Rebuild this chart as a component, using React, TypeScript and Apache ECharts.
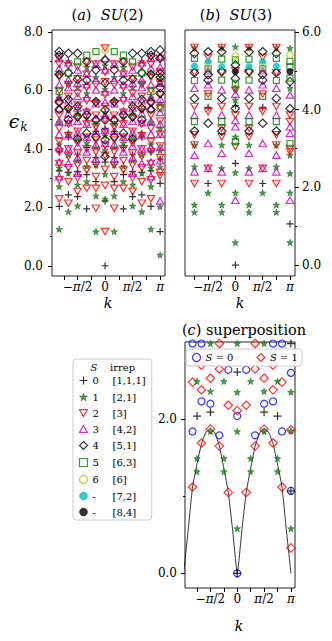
import { useEffect, useRef } from 'react';
import * as echarts from 'echarts';

const PI = Math.PI;
const FONT = 'DejaVu Serif';

// ---- legend / species ----
const irreps = ['[1,1,1]', '[2,1]', '[3]', '[4,2]', '[5,1]', '[6,3]', '[6]', '[7,2]', '[8,4]'];
const sLabels = ['0', '1', '2', '3', '4', '5', '6', '-', '-'];

// ---- ticks ----
const xTickQuarters = [-3, -2, -1, 0, 1, 2, 3, 4]; // multiples of pi/4
const xLabelHalves = [-1, 0, 1, 2]; // multiples of pi/2
const yTicksA = [0, 2, 4, 6, 8];
const yMinorA = [1, 3, 5, 7];
const yTicksB = [0, 2, 4, 6];
const yMinorB = [1, 3, 5];
const yTicksC = [0, 2];
const yMinorC = [1];

// ---- panel (a) SU(2), k = n*pi/6, columns n = 0..6 (n=1..5 also at -n) ----
const a_S0 = [[0, 2.22, 3.55, 4.7], [2.88, 3.7, 4.6], [1.95, 3.12, 4.05], [2.37, 3.22, 3.8], [2.43, 3.2, 4.4], [2.03, 3.25, 3.9], [1.17, 2.82, 3.65]];
const a_S1 = [
  [2.28, 3.13, 3.95, 4.45, 5.25, 6.05, 6.85],
  [1.17, 2.39, 3.45, 4.05, 4.85, 5.65, 6.45],
  [2.88, 3.4, 4.2, 5.05, 5.9, 6.8],
  [2.05, 2.77, 3.6, 4.35, 5.2, 6.1],
  [1.85, 3.17, 3.8, 4.55, 5.35, 6.25, 7.0],
  [1.25, 2.71, 3.35, 4.15, 4.9, 5.75, 6.6],
  [0.37, 2.02, 3.38, 3.95, 4.7, 5.55, 6.4],
];
const a_S2 = [
  [1.17, 2.75, 3.3, 3.78, 4.12, 4.55, 5.0, 5.45, 5.85, 6.3, 6.62, 7.45],
  [1.97, 2.65, 3.05, 3.45, 3.9, 4.3, 4.75, 5.15, 5.55, 6.2, 6.9],
  [2.65, 3.28, 3.6, 4.0, 4.4, 4.85, 5.25, 5.65, 6.1, 6.55, 6.98],
  [2.54, 3.0, 3.45, 3.85, 4.2, 4.6, 5.05, 5.5, 5.9, 6.4, 6.8],
  [2.14, 2.88, 3.35, 3.75, 4.0, 4.45, 4.85, 5.35, 5.8, 6.2, 6.85],
  [2.29, 2.94, 3.5, 3.9, 4.25, 4.7, 5.15, 5.55, 6.0, 6.45, 6.9, 7.15],
  [3.08, 3.2, 3.7, 4.1, 4.5, 4.95, 5.4, 5.85, 6.25, 6.65, 7.1],
];
const a_S3 = [
  [4.2, 4.65, 5.15, 5.6, 5.95, 6.7, 7.1],
  [3.65, 4.15, 4.6, 5.05, 5.55, 6.02, 6.36, 6.9],
  [3.9, 4.4, 4.85, 5.3, 5.75, 6.2, 6.59],
  [3.17, 3.7, 4.1, 4.55, 4.95, 5.4, 5.8, 6.25, 6.7],
  [3.5, 4.0, 4.45, 4.9, 5.2, 5.65, 6.1, 6.36, 6.95],
  [3.05, 3.55, 4.05, 4.5, 4.95, 5.4, 5.75, 6.2, 6.75, 7.1],
  [2.22, 3.6, 4.05, 4.5, 4.85, 5.25, 5.7, 6.25, 6.8, 7.15],
];
const a_S4 = [
  [3.74, 4.31, 4.99, 5.33, 6.25, 7.04],
  [4.42, 4.99, 5.62, 6.7],
  [4.54, 5.16, 6.35, 6.98],
  [4.35, 5.1, 5.45, 6.38, 7.27],
  [5.0, 5.39, 5.7, 6.6, 7.27],
  [5.35, 5.6, 6.55, 7.2, 7.33],
  [5.9, 6.1, 6.45, 6.59, 7.1, 7.38],
];
const a_S5 = [[], [7.33], [7.21], [6.98], [6.59], [5.96], [5.4]];
const a_S6 = [[7.38], [], [], [], [], [], []];

// ---- panel (b) SU(3), k = n*pi/4, columns n = 0..4 (n=1..3 also at -n) ----
const b_S0 = [[0, 2.62, 4.1], [], [2.1, 4.06], [], [1.06]];
const b_S1 = [
  [0.58, 1.86, 2.38, 3.3, 4.25, 4.55, 5.62],
  [1.36, 1.55, 2.49, 3.09, 5.6],
  [1.86],
  [1.36, 1.55, 2.53, 3.09, 5.6],
  [0.58, 1.86, 2.36, 2.83, 4.55, 5.58],
];
const b_S2 = [[3.05, 3.86, 4.5, 5.0], [2.1, 3.3, 3.52, 4.08, 4.95, 5.6], [2.49, 3.95, 4.4, 5.35], [2.1, 3.09, 3.35, 4.08, 4.95, 5.6], [2.92, 3.0, 3.69, 3.86]];
const b_S3 = [[1.67, 3.56, 3.72, 4.4], [2.4, 2.88, 3.86, 4.51], [2.49, 3.13, 4.64, 5.0], [2.4, 2.83, 3.86, 4.55], [1.67, 3.39, 3.56, 4.38]];
const b_S4 = [[4.03, 4.8, 5.15], [3.45, 4.29, 4.98, 5.49], [3.65, 4.76, 4.9, 5.49], [3.45, 4.29, 4.95, 5.45], [4.03, 4.72]];
const b_S5 = [[3.18, 4.68, 5.28], [3.69, 4.76, 5.3], [4.34, 5.05], [3.69, 4.75, 5.32], [3.13, 4.81, 5.11, 5.24]];
const b_S6 = [[5.38], [], [5.16], [], [5.41]];
const b_S7 = [[], [5.11], [5.24], [5.12], []];
const b_S8 = [[4.98], [], [], [], [4.98]];

// ---- panel (c) superposition ----
const c_S0 = [[0, 2.04], [2.64], [1.79], [2.2], [2.23, 2.98], [1.84, 2.98], [1.07, 2.6]]; // k = n*pi/6
const c_S1 = [[2.11], [1.05, 2.18], [1.65, 2.65, 2.98], [1.87, 2.53], [1.69, 2.38, 2.7], [1.12, 2.48], [0.33, 1.86]]; // k = n*pi/6
const c_star = [[0.58, 1.84, 2.35, 2.98], [1.32, 1.49, 2.49], [1.84, 2.36, 2.98], [1.32, 1.49, 2.49], [0.58, 1.85, 2.35]]; // k = n*pi/4
const c_plus = [[0, 2.61], [], [2.09], [2.04], [1.07, 2.98]]; // k = n*pi/4
// curve, k = j*pi/12, j = -12..12
const c_lineJ = [-12, -11, -10, -9, -8, -7, -6, -5, -4, -3, -2, -1, 0, 1, 2, 3, 4, 5, 6, 7, 8, 9, 10, 11, 12];
const c_lineE = [0, 0.55, 1.12, 1.42, 1.68, 1.83, 1.88, 1.82, 1.65, 1.36, 1.05, 0.54, 0, 0.54, 1.05, 1.36, 1.65, 1.82, 1.88, 1.83, 1.68, 1.42, 1.12, 0.55, 0];

function expand(cols: number[][], step: number, nEdge: number): number[][] {
  const out: number[][] = [];
  cols.forEach((vals, n) => {
    vals.forEach((v) => {
      out.push([n * step, v]);
      if (n > 0 && n < nEdge) out.push([-n * step, v]);
    });
  });
  return out;
}

const PLUS = 'path://M0,5L10,5M5,0L5,10';
const STAR = 'path://M5,0L6.18,3.38L9.76,3.45L6.9,5.62L7.94,9.05L5,7L2.06,9.05L3.1,5.62L0.24,3.45L3.82,3.38Z';
const TRI_UP = 'path://M5,0L10,8.66L0,8.66Z';
const TRI_DOWN = 'path://M0,0L10,0L5,8.66Z';

const speciesStyle: any[] = [
  { symbol: PLUS, symbolSize: 7, itemStyle: { color: 'none', borderColor: '#000', borderWidth: 1.2 } },
  { symbol: STAR, symbolSize: 6.5, itemStyle: { color: '#1a8a1a', borderColor: '#075707', borderWidth: 0.6 } },
  { symbol: TRI_DOWN, symbolSize: [7.5, 6.5], itemStyle: { color: 'none', borderColor: '#ff0000', borderWidth: 1.2 } },
  { symbol: TRI_UP, symbolSize: [7.5, 6.5], itemStyle: { color: 'none', borderColor: '#bf00bf', borderWidth: 1.2 } },
  { symbol: 'diamond', symbolSize: 8.5, itemStyle: { color: 'none', borderColor: '#000', borderWidth: 1.2 } },
  { symbol: 'rect', symbolSize: 6, itemStyle: { color: 'none', borderColor: '#008000', borderWidth: 1.2 } },
  { symbol: 'circle', symbolSize: 6.5, itemStyle: { color: 'none', borderColor: '#bfbf00', borderWidth: 1.2 } },
  { symbol: 'circle', symbolSize: 6.5, itemStyle: { color: '#00bfbf', borderColor: '#00bfbf', borderWidth: 0.5 } },
  { symbol: 'circle', symbolSize: 6.5, itemStyle: { color: '#000', borderColor: '#000', borderWidth: 0.5 } },
];

const grids = [
  { left: 52, top: 30, width: 113, height: 246 },
  { left: 185, top: 30, width: 110, height: 246 },
  { left: 185, top: 342, width: 110, height: 246 },
];
const xRanges = [[-3.03, 3.42], [-2.9, 3.43], [-3.06, 3.38]];
const yRanges = [[-0.35, 8.07], [-0.28, 6.05], [-0.19, 3.0]];
const yMajor = [yTicksA, yTicksB, yTicksC];
const yMinor = [yMinorA, yMinorB, yMinorC];
const yPos = ['left', 'right', 'left'];
const yMargin = [9, 7, 8];

function buildOption(): any {
  const labelText = (v: number) => {
    const m = Math.round(v / (PI / 2));
    if (m === -1) return '−{i|π}/2';
    if (m === 0) return '0';
    if (m === 1) return '{i|π}/2';
    return '{i|π}';
  };
  const xAxis = grids.map((_, i) => ({
    type: 'value', gridIndex: i, position: 'bottom', min: xRanges[i][0], max: xRanges[i][1],
    axisLine: { show: false, onZero: false }, splitLine: { show: false },
    axisTick: { show: true, inside: false, length: 4, customValues: xTickQuarters.map((q) => (q * PI) / 4), lineStyle: { color: '#000', width: 1 } },
    axisLabel: {
      customValues: xLabelHalves.map((h) => (h * PI) / 2), formatter: labelText, margin: 5,
      fontFamily: FONT, fontSize: 12, color: '#000',
      rich: { i: { fontStyle: 'italic', fontFamily: FONT, fontSize: 12, color: '#000' } },
    },
  }));
  const yAxis: any[] = [];
  grids.forEach((_, i) => {
    yAxis.push({
      type: 'value', gridIndex: i, position: yPos[i], min: yRanges[i][0], max: yRanges[i][1],
      axisLine: { show: false, onZero: false }, splitLine: { show: false },
      axisTick: { show: true, inside: false, length: 4, customValues: yMajor[i], lineStyle: { color: '#000', width: 1 } },
      axisLabel: { customValues: yMajor[i], formatter: (v: number) => v.toFixed(1), margin: yMargin[i], fontFamily: FONT, fontSize: 12, color: '#000' },
    });
    yAxis.push({
      type: 'value', gridIndex: i, position: yPos[i], min: yRanges[i][0], max: yRanges[i][1],
      axisLine: { show: false, onZero: false }, splitLine: { show: false },
      axisTick: { show: true, inside: false, length: 2, customValues: yMinor[i], lineStyle: { color: '#000', width: 1 } },
      axisLabel: { show: false },
    });
  });

  const series: any[] = [];
  const aData = [a_S0, a_S1, a_S2, a_S3, a_S4, a_S5, a_S6];
  aData.forEach((cols, s) => {
    series.push({ type: 'scatter', name: irreps[s], xAxisIndex: 0, yAxisIndex: 0, data: expand(cols, PI / 6, 6), z: 2 + s * 0.01, ...speciesStyle[s] });
  });
  const bData = [b_S0, b_S1, b_S2, b_S3, b_S4, b_S5, b_S6, b_S7, b_S8];
  bData.forEach((cols, s) => {
    series.push({ type: 'scatter', name: irreps[s], xAxisIndex: 1, yAxisIndex: 2, data: expand(cols, PI / 4, 4), z: 2 + s * 0.01, ...speciesStyle[s] });
  });
  series.push({
    type: 'line', name: 'curve', xAxisIndex: 2, yAxisIndex: 4, showSymbol: false, symbol: 'none', smooth: 0.15,
    data: c_lineJ.map((j, idx) => [(j * PI) / 12, c_lineE[idx]]), lineStyle: { color: '#000', width: 0.8 }, z: 1, silent: true,
  });
  series.push({ type: 'scatter', name: 'S = 0', xAxisIndex: 2, yAxisIndex: 4, data: expand(c_S0, PI / 6, 6), symbol: 'circle', symbolSize: 7, itemStyle: { color: 'none', borderColor: '#0000ff', borderWidth: 1.2 }, z: 2 });
  series.push({ type: 'scatter', name: 'S = 1', xAxisIndex: 2, yAxisIndex: 4, data: expand(c_S1, PI / 6, 6), symbol: 'diamond', symbolSize: 8.5, itemStyle: { color: 'none', borderColor: '#ff0000', borderWidth: 1.2 }, z: 2.01 });
  series.push({ type: 'scatter', name: '[2,1]', xAxisIndex: 2, yAxisIndex: 4, data: expand(c_star, PI / 4, 4), ...speciesStyle[1], z: 2.02 });
  series.push({ type: 'scatter', name: '[1,1,1]', xAxisIndex: 2, yAxisIndex: 4, data: expand(c_plus, PI / 4, 4), ...speciesStyle[0], symbolSize: 8, z: 2.03 });

  const legendRich = {
    s: { width: 20, fontFamily: FONT, fontSize: 10, color: '#000' },
    r: { fontFamily: FONT, fontSize: 10, color: '#000' },
  };
  const legend = [
    {
      orient: 'vertical', left: 73, top: 359, padding: [15, 6, 2, 4], itemWidth: 8, itemHeight: 8, itemGap: 4,
      backgroundColor: '#fff', borderColor: '#cccccc', borderWidth: 1, borderRadius: 3, selectedMode: false, z: 10,
      data: irreps.map((n, s) => ({ name: n, icon: speciesStyle[s].symbol, itemStyle: speciesStyle[s].itemStyle })),
      formatter: (name: string) => `{s|${sLabels[irreps.indexOf(name)]}}{r|${name}}`,
      textStyle: { fontFamily: FONT, fontSize: 10, lineHeight: 12, color: '#000', rich: legendRich },
    },
    {
      orient: 'horizontal', left: 186, top: 349, padding: [2, 4, 2, 4], itemWidth: 8, itemHeight: 8, itemGap: 21,
      backgroundColor: 'rgba(255,255,255,0.85)', borderColor: '#cccccc', borderWidth: 1, borderRadius: 3, selectedMode: false, z: 10,
      data: [
        { name: 'S = 0', icon: 'circle', itemStyle: { color: 'none', borderColor: '#0000ff', borderWidth: 1.2 } },
        { name: 'S = 1', icon: 'diamond', itemStyle: { color: 'none', borderColor: '#ff0000', borderWidth: 1.2 } },
      ],
      formatter: (name: string) => `{i|S} = ${name.slice(-1)}`,
      textStyle: { fontFamily: FONT, fontSize: 10, lineHeight: 12, color: '#000', rich: { i: { fontStyle: 'italic', fontFamily: FONT, fontSize: 10, color: '#000' } } },
    },
  ];

  const ital = (size: number) => ({ i: { fontStyle: 'italic', fontFamily: FONT, fontSize: size, fill: '#000' } });
  const txt = (x: number, y: number, text: string, size: number, align = 'center', italic = false) => ({
    type: 'text', x, y, z: 20,
    style: { text, align, verticalAlign: 'middle', fontFamily: FONT, fontSize: size, fontStyle: italic ? 'italic' : 'normal', fill: '#000', rich: ital(size) },
  });
  const graphic = [
    txt(107.5, 15, '({i|a})  {i|SU}(2)', 14.5),
    txt(236, 15, '({i|b})  {i|SU}(3)', 14.5),
    txt(244, 330, '({i|c}) superposition', 14.5),
    txt(14, 121, 'ϵ', 19, 'center', true),
    txt(24, 127, 'k', 12, 'center', true),
    txt(108, 303, 'k', 14, 'center', true),
    txt(240, 303, 'k', 14, 'center', true),
    txt(239, 626, 'k', 14, 'center', true),
    txt(94, 367, 'S', 10, 'center', true),
    txt(110, 367, 'irrep', 10, 'left'),
  ];

  return {
    animation: false,
    backgroundColor: '#fff',
    textStyle: { fontFamily: FONT },
    grid: grids.map((g) => ({ ...g, show: true, borderColor: '#222', borderWidth: 1, backgroundColor: 'transparent', containLabel: false })),
    xAxis, yAxis, series, legend, graphic,
  };
}

export default function App() {
  const ref = useRef<HTMLDivElement>(null);
  useEffect(() => {
    if (!ref.current) return;
    const chart = echarts.init(ref.current, undefined, { renderer: 'svg' });
    chart.setOption(buildOption());
    return () => chart.dispose();
  }, []);
  return <div ref={ref} style={{ position: 'absolute', left: 0, top: 0, width: 332, height: 641, background: '#fff' }} />;
}
